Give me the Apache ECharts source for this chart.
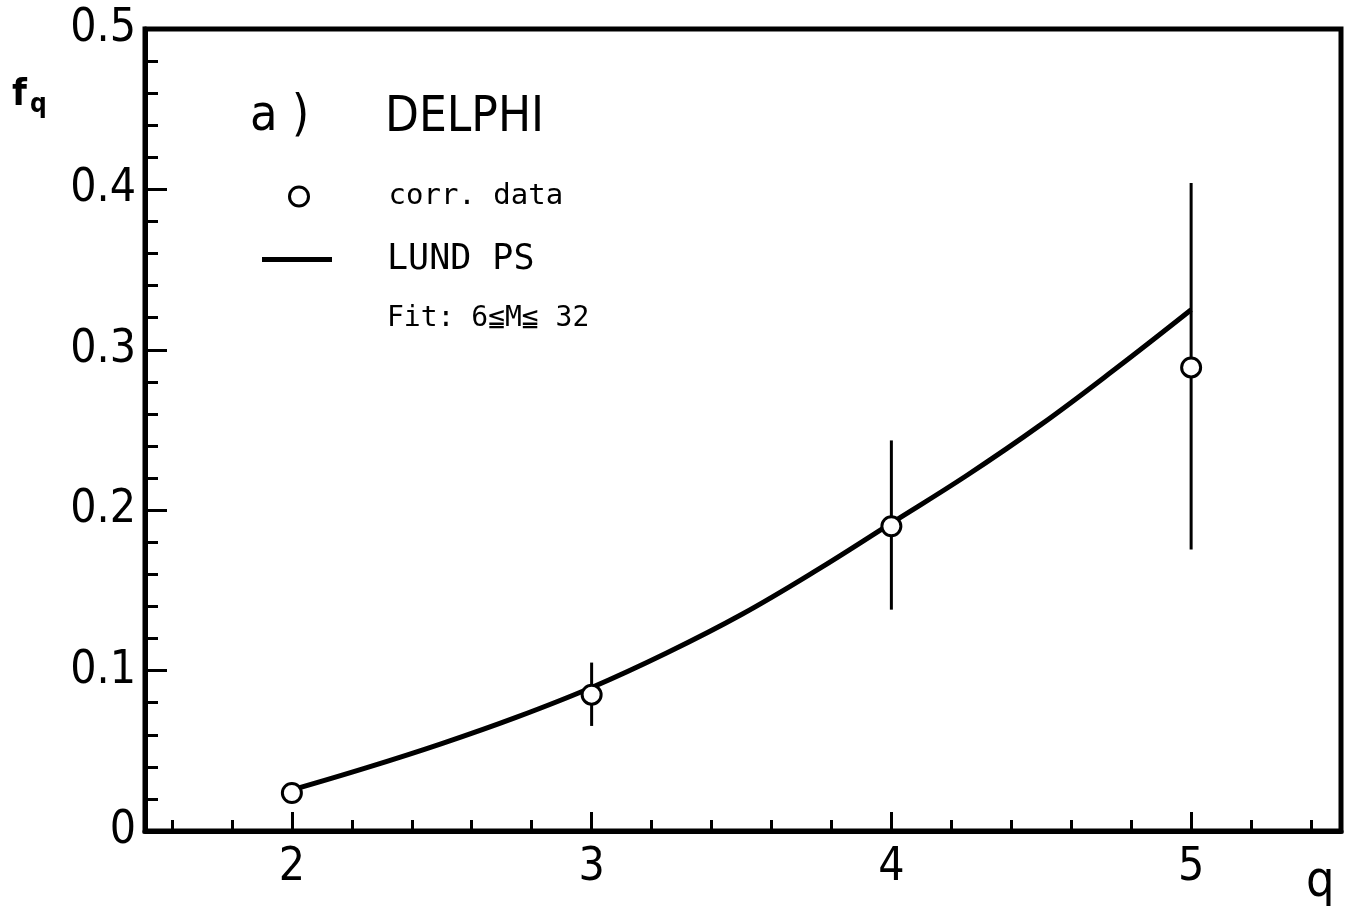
<!DOCTYPE html>
<html>
<head>
<meta charset="utf-8">
<script src="https://cdn.jsdelivr.net/npm/echarts@6/dist/echarts.min.js"></script>
<style>html,body{margin:0;padding:0;background:#fff;}#c{width:1354px;height:918px;}</style>
</head>
<body>
<div id="c"></div>
<script>
// ---- data ----
const qValues = [2, 3, 4, 5];
const fqValues = [0.0237, 0.0850, 0.1900, 0.2890];
const errLow = [0.0237, 0.0655, 0.1380, 0.1755];
const errHigh = [0.0237, 0.1050, 0.2435, 0.4040];
const fitQ = [2, 2.25, 2.5, 2.75, 3, 3.25, 3.5, 3.75, 4, 4.25, 4.5, 4.75, 5];
const fitF = [0.0256, 0.0395, 0.0545, 0.0710, 0.0895, 0.1110, 0.1350, 0.1625, 0.1920, 0.2215, 0.2535, 0.2885, 0.3250];
const xMajorTicks = [2, 3, 4, 5];
const xMinorTicks = [1.6, 1.8, 2.2, 2.4, 2.6, 2.8, 3.2, 3.4, 3.6, 3.8, 4.2, 4.4, 4.6, 4.8, 5.2, 5.4];
const yTickLabels = ['0', '0.1', '0.2', '0.3', '0.4', '0.5'];

const NARROW = '"Liberation Sans Narrow", "DejaVu Sans Condensed", sans-serif';
const MONO = '"DejaVu Sans Mono", "Liberation Mono", monospace';

const chart = echarts.init(document.getElementById('c'));
chart.setOption({
  animation: false,
  backgroundColor: '#fff',
  grid: {
    left: 145, right: 13, top: 29, bottom: 87,
    show: true, borderColor: '#000', borderWidth: 5, backgroundColor: 'transparent'
  },
  xAxis: [{
    type: 'value', min: 1.51, max: 5.5,
    axisLine: { lineStyle: { color: '#000', width: 5 } },
    axisTick: { inside: true, length: 19, lineStyle: { color: '#000', width: 3 }, customValues: xMajorTicks },
    axisLabel: { customValues: xMajorTicks, fontFamily: NARROW, fontSize: 46, color: '#000', margin: 14 },
    splitLine: { show: false }
  }, {
    type: 'value', min: 1.51, max: 5.5, position: 'bottom',
    axisLine: { show: false },
    axisTick: { inside: true, length: 11, lineStyle: { color: '#000', width: 3 }, customValues: xMinorTicks },
    axisLabel: { show: false },
    splitLine: { show: false }
  }],
  yAxis: {
    type: 'value', min: 0, max: 0.5, interval: 0.1,
    axisLine: { show: true, lineStyle: { color: '#000', width: 5 } },
    axisTick: { show: true, inside: true, length: 22, lineStyle: { color: '#000', width: 3 } },
    minorTick: { show: true, splitNumber: 5, length: 13, lineStyle: { color: '#000', width: 3 } },
    axisLabel: {
      fontFamily: NARROW, fontSize: 46, color: '#000', margin: 9,
      formatter: function (v) { return yTickLabels[Math.round(v * 10)]; }
    },
    splitLine: { show: false }
  },
  legend: [{
    left: 288, top: 182, padding: 0, orient: 'vertical',
    itemWidth: 19, itemHeight: 19,
    data: [{ name: 'corr. data', icon: 'circle', itemStyle: { color: '#fff', borderColor: '#000', borderWidth: 3 } }],
    textStyle: { fontFamily: MONO, fontSize: 29, color: '#000', padding: [0, 0, 0, 75] }
  }, {
    left: 262, top: 242, padding: 0, orient: 'vertical',
    itemWidth: 70, itemHeight: 5,
    data: [{ name: 'LUND PS', icon: 'rect', itemStyle: { color: '#000' } }],
    textStyle: { fontFamily: MONO, fontSize: 35, color: '#000', padding: [0, 0, 0, 50] }
  }],
  graphic: [
    { type: 'text', left: 250, top: 92, style: { text: 'a )', font: '50px ' + NARROW, fill: '#000' } },
    { type: 'text', left: 385, top: 94, style: { text: 'DELPHI', font: '49px ' + NARROW, fill: '#000' } },
    { type: 'text', left: 387, top: 305, style: { text: 'Fit: 6≦M≦ 32', font: '28px ' + MONO, fill: '#000' } },
    { type: 'text', left: 12, top: 76, style: { text: 'f', font: 'bold 38px ' + NARROW, fill: '#000' } },
    { type: 'text', left: 30, top: 92, style: { text: 'q', font: 'bold 26px ' + NARROW, fill: '#000' } },
    { type: 'text', left: 1306, top: 858, style: { text: 'q', font: '50px ' + NARROW, fill: '#000' } }
  ],
  series: [{
    name: 'errors', type: 'custom', z: 2,
    data: qValues.map((q, i) => [q, errLow[i], errHigh[i]]),
    renderItem: function (params, api) {
      const x = api.value(0);
      const p1 = api.coord([x, api.value(1)]);
      const p2 = api.coord([x, api.value(2)]);
      return { type: 'line', shape: { x1: p1[0], y1: p1[1], x2: p2[0], y2: p2[1] }, style: { stroke: '#000', lineWidth: 3 } };
    }
  }, {
    name: 'LUND PS', type: 'line', z: 3, smooth: 0.4, symbol: 'none',
    data: fitQ.map((q, i) => [q, fitF[i]]),
    lineStyle: { color: '#000', width: 5 }
  }, {
    name: 'corr. data', type: 'scatter', z: 4,
    data: qValues.map((q, i) => [q, fqValues[i]]),
    symbol: 'circle', symbolSize: 19,
    itemStyle: { color: '#fff', borderColor: '#000', borderWidth: 3, opacity: 1 }
  }]
});
</script>
</body>
</html>
